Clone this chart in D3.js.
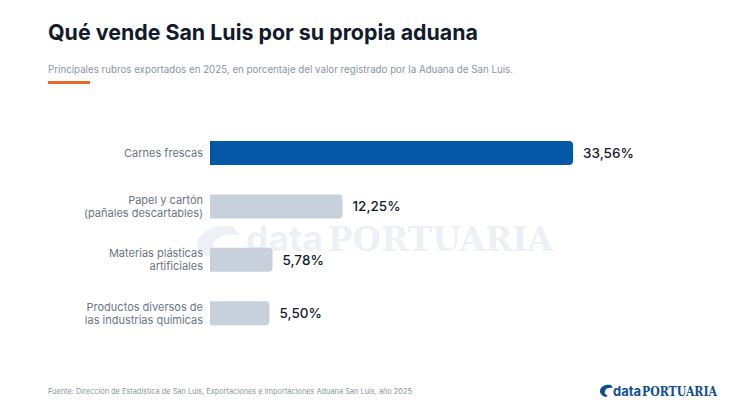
<!DOCTYPE html>
<html><head><meta charset="utf-8">
<script src="https://cdn.jsdelivr.net/npm/d3@7"></script>
<style>
html,body{margin:0;padding:0;background:#fff;}
svg{display:block;font-family:Inter,"Open Sans",sans-serif;}
</style></head>
<body>
<svg id="chart" width="750" height="413"></svg>
<script>
const categories = [
  ["Carnes frescas"],
  ["Papel y cartón", "(pañales descartables)"],
  ["Materias plásticas", "artificiales"],
  ["Productos diversos de", "las industrias químicas"]
];
const values = [33.56, 12.25, 5.78, 5.50];
const valueLabels = ["33,56%", "12,25%", "5,78%", "5,50%"];
const highlight = [true, false, false, false];

const svg = d3.select("#chart");
svg.append("rect").attr("width",750).attr("height",413).attr("fill","#fff");

// Title
svg.append("text").attr("x",48).attr("y",40)
  .attr("font-size",22).attr("font-weight",700).attr("fill","#111b2b")
  .attr("textLength",430).attr("lengthAdjust","spacingAndGlyphs")
  .text("Qué vende San Luis por su propia aduana");
svg.append("text").attr("x",48).attr("y",73)
  .attr("font-size",10).attr("fill","#8a94a6")
  .attr("textLength",465).attr("lengthAdjust","spacingAndGlyphs")
  .text("Principales rubros exportados en 2025, en porcentaje del valor registrado por la Aduana de San Luis.");
svg.append("rect").attr("x",48).attr("y",81).attr("width",42).attr("height",3).attr("fill","#e86a2b");

// watermark (drawn first, faint)
const wm = svg.append("g").attr("opacity",0.12);
wm.append("path").attr("d","M232,226 C214,224 197,233 197,244 C197,255 211,260 224,256 C217,254 212,250 214,244 C216,237 226,233 240,235 Z").attr("fill","#6f8fb5");
wm.append("path").attr("d","M204,236 C199,244 203,254 219,256 C209,251 207,244 213,238 Z").attr("fill","#6f8fb5");
wm.append("text").attr("x",246).attr("y",251).attr("font-size",34).attr("font-weight",700)
  .attr("font-family","Inter,sans-serif").attr("fill","#6f8fb5")
  .attr("textLength",77).attr("lengthAdjust","spacingAndGlyphs").text("data");
wm.append("text").attr("x",328).attr("y",251).attr("font-size",34).attr("font-weight",700)
  .attr("font-family","'DejaVu Serif','Liberation Serif',serif").attr("fill","#6f8fb5")
  .attr("textLength",225).attr("lengthAdjust","spacingAndGlyphs").text("PORTUARIA");

// scales
const x = d3.scaleLinear().domain([0, 33.56]).range([210, 573]);
const y = d3.scaleBand().domain(d3.range(values.length)).range([125, 341.3]).paddingInner(0.55).paddingOuter(0.3);

const bw = y.bandwidth();
const g = svg.append("g");
values.forEach((v,i)=>{
  const x0 = x(0), x1 = x(v), y0 = y(i), r = 4;
  const path = `M${x0},${y0} H${x1-r} Q${x1},${y0} ${x1},${y0+r} V${y0+bw-r} Q${x1},${y0+bw} ${x1-r},${y0+bw} H${x0} Z`;
  g.append("path").attr("d",path).attr("fill", highlight[i] ? "#0457a5" : "#c5ced9").attr("fill-opacity", highlight[i] ? 1 : 0.95);
  g.append("text").attr("x",x1+10).attr("y",y0+bw/2).attr("dy","0.35em")
    .attr("font-size",13.5).attr("font-weight",500).attr("fill","#111b2b").text(valueLabels[i]);
  const lines = categories[i];
  const lh = 13;
  lines.forEach((t,j)=>{
    g.append("text").attr("x",203).attr("text-anchor","end")
      .attr("y", y0+bw/2 + (j-(lines.length-1)/2)*lh).attr("dy","0.35em")
      .attr("font-size",11).attr("fill","#6b7585").text(t);
  });
});

// footer
svg.append("text").attr("x",48).attr("y",394).attr("font-size",7.6).attr("fill","#8a94a6")
  .attr("textLength",364).attr("lengthAdjust","spacingAndGlyphs")
  .text("Fuente: Dirección de Estadística de San Luis, Exportaciones e Importaciones Aduana San Luis, año 2025");

// logo
const lg = svg.append("g");
lg.append("path").attr("d","M611,385 C605,384 600,387 600,391 C600,395 604,397 608,396 C606,395 604,393 605,391 C606,388 609,387 613,388 Z").attr("fill","#0f4e93");
lg.append("path").attr("d","M602,389 C600,393 602,397 607,397 C604,395 603,392 604,390 Z").attr("fill","#0f4e93");
lg.append("text").attr("x",613).attr("y",396).attr("font-size",13).attr("font-weight",700)
  .attr("fill","#0f4e93").attr("textLength",28).attr("lengthAdjust","spacingAndGlyphs").text("data");
lg.append("text").attr("x",642).attr("y",396).attr("font-size",12.5).attr("font-weight",700)
  .attr("font-family","'DejaVu Serif','Liberation Serif',serif").attr("fill","#0f4e93")
  .attr("textLength",75).attr("lengthAdjust","spacingAndGlyphs").text("PORTUARIA");
</script>
</body></html>
